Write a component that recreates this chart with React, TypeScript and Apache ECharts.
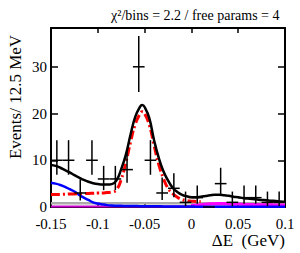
import React, { useEffect, useRef } from "react";
import * as echarts from "echarts";

const binCenters = [
  -0.14375, -0.13125, -0.11875, -0.10625, -0.09375, -0.08125, -0.06875, -0.05625, -0.04375, -0.03125,
  -0.01875, -0.00625, 0.00625, 0.01875, 0.03125, 0.04375, 0.05625, 0.06875, 0.08125, 0.09375,
];
const binWidth = 0.0125;
const counts = [10, 10, 3, 10, 6, 6, 8, 30, 10, 3, 4, 1, 2, 0, 5, 1, 2, 2, 1, 1];
const errLow = [6.9, 6.9, 1.4, 6.9, 3.6, 3.6, 5.2, 24.6, 6.9, 1.5, 2.1, 0.2, 0.7, 0, 2.8, 0.2, 0.7, 0.7, 0.2, 0.2];
const errHigh = [14.3, 14.3, 5.9, 14.3, 8.8, 8.8, 12.0, 36.6, 14.3, 6.3, 7.2, 3.3, 4.6, 0, 8.4, 3.3, 4.6, 4.6, 3.3, 3.3];

const curveX = [
  -0.15, -0.145, -0.14, -0.135, -0.13, -0.125, -0.12, -0.115, -0.11, -0.105, -0.1, -0.095, -0.09, -0.085,
  -0.08, -0.075, -0.07, -0.065, -0.06, -0.055, -0.0525, -0.05, -0.045, -0.04, -0.035, -0.03, -0.025, -0.02, -0.015,
  -0.01, -0.005, 0, 0.005, 0.01, 0.015, 0.02, 0.025, 0.03, 0.035, 0.04, 0.045, 0.05, 0.055, 0.06, 0.065,
  0.07, 0.075, 0.08, 0.085, 0.09, 0.095, 0.1,
];
const totalFit = [
  9.0, 8.8, 8.4, 7.9, 7.4, 6.8, 6.3, 5.8, 5.4, 5.1, 4.9, 4.8, 4.8, 4.9,
  5.7, 8.1, 11.2, 15.5, 19.3, 21.4, 21.8, 21.4, 19.0, 14.4, 10.6, 7.7, 5.7, 4.1, 3.2,
  2.6, 2.3, 2.1, 2.1, 2.2, 2.35, 2.5, 2.6, 2.6, 2.5, 2.4, 2.2, 2.1, 1.9, 1.8, 1.7,
  1.6, 1.5, 1.45, 1.35, 1.3, 1.2, 1.15,
];
const signalFit = [
  2.7, 2.7, 2.7, 2.75, 2.8, 2.8, 2.85, 2.9, 2.9, 2.95, 3.0, 3.0, 3.1, 3.2,
  3.7, 5.9, 9.5, 13.9, 17.7, 19.9, 20.4, 20.0, 17.6, 13.3, 9.2, 6.2, 4.0, 2.9, 2.1,
  1.6, 1.35, 1.25, 1.2, 1.15, null, null, null, null, null, null, null, null, null, null, null,
  null, null, null, null, null, null, null,
];
const bgBlue = [
  5.2, 5.0, 4.7, 4.3, 3.8, 3.3, 2.6, 2.0, 1.5, 1.0, 0.75, 0.55, 0.4, 0.32,
  0.28, 0.25, 0.22, 0.2, 0.2, 0.18, 0.18, 0.17, 0.16, 0.15, 0.14, 0.13, 0.12, 0.11, 0.1,
  0.1, 0.09, 0.09, 0.08, 0.08, 0.08, 0.07, 0.07, 0.07, 0.06, 0.06, 0.06, 0.06, 0.05, 0.05, 0.05,
  0.05, 0.05, 0.04, 0.04, 0.04, 0.04, 0.04,
];
const bgGray = curveX.map(() => 0.8);
const bgMagentaLow = curveX.map(() => 0.1);
const bumpX = [0.0, 0.01, 0.02, 0.03, 0.04, 0.05, 0.06, 0.07, 0.08, 0.09, 0.1];
const bumpY = [0.3, 0.5, 0.7, 0.75, 0.7, 0.62, 0.56, 0.52, 0.48, 0.45, 0.42];

const titleText = "χ²/bins = 2.2 / free params = 4";
const yName = "Events/ 12.5 MeV";
const xName = "ΔE  (GeV)";

const FONT = "Liberation Serif";

const pair = (xs: number[], ys: (number | null)[]) =>
  xs.map((x, i) => [x, ys[i]]).filter((p) => p[1] !== null);

export default function App() {
  const ref = useRef<HTMLDivElement>(null);
  useEffect(() => {
    document.body.style.margin = "0";
    if (!ref.current) return;
    const chart = echarts.init(ref.current, undefined, { renderer: "svg" });
    const axisLine = { show: true, onZero: false, lineStyle: { color: "#000", width: 2 } };
    const yFmt = (v: number) => (Math.abs(v % 10) < 1e-9 ? String(v) : "");
    chart.setOption({
      animation: false,
      backgroundColor: "#fff",
      title: {
        text: titleText,
        left: 106,
        top: 3,
        textStyle: { fontFamily: FONT, fontSize: 14, fontWeight: "normal", color: "#000" },
      },
      grid: { left: 51, right: 15, top: 28, bottom: 46 },
      xAxis: [
        {
          type: "value",
          min: -0.15,
          max: 0.1,
          interval: 0.05,
          axisLine,
          axisTick: { inside: true, length: 5, lineStyle: { color: "#000", width: 1.5 } },
          axisLabel: {
            margin: 11,
            fontFamily: FONT,
            fontSize: 15,
            lineHeight: 12,
            color: "#000",
            formatter: (v: number) => String(Number(v.toFixed(2))),
          },
          splitLine: { show: false },
        },
        {
          type: "value",
          position: "top",
          min: -0.15,
          max: 0.1,
          interval: 0.05,
          axisLine,
          axisTick: { inside: true, length: 5, lineStyle: { color: "#000", width: 1.5 } },
          axisLabel: { show: false },
          splitLine: { show: false },
        },
      ],
      yAxis: [
        {
          type: "value",
          min: 0,
          max: 38.3,
          interval: 10,
          axisLine,
          axisTick: { inside: true, length: 7, lineStyle: { color: "#000", width: 1.5 } },
          axisLabel: {
            margin: 4,
            fontFamily: FONT,
            fontSize: 15,
            lineHeight: 12,
            color: "#000",
            formatter: yFmt,
            showMaxLabel: false,
          },
          splitLine: { show: false },
        },
        {
          type: "value",
          position: "right",
          min: 0,
          max: 38.3,
          interval: 10,
          axisLine,
          axisTick: { inside: true, length: 7, lineStyle: { color: "#000", width: 1.5 } },
          axisLabel: { show: false },
          splitLine: { show: false },
        },
      ],
      graphic: [
        {
          type: "text",
          x: 15,
          y: 97,
          rotation: Math.PI / 2,
          style: { text: yName, fontFamily: FONT, fontSize: 17, fill: "#000", align: "center", verticalAlign: "middle" },
        },
        {
          type: "text",
          x: 285,
          y: 240,
          style: { text: xName, fontFamily: FONT, fontSize: 17, fill: "#000", align: "right", verticalAlign: "middle" },
        },
      ],
      series: [
        {
          type: "line",
          data: pair(curveX, bgGray),
          showSymbol: false,
          lineStyle: { color: "#aaaaaa", width: 2.5 },
          z: 2,
        },
        {
          type: "line",
          data: pair(curveX, bgMagentaLow),
          showSymbol: false,
          lineStyle: { color: "#cc00cc", width: 2 },
          z: 2,
        },
        {
          type: "line",
          data: pair(bumpX, bumpY),
          smooth: true,
          showSymbol: false,
          lineStyle: { color: "#ff00ff", width: 3 },
          z: 3,
        },
        {
          type: "line",
          data: pair(curveX, bgBlue),
          smooth: true,
          showSymbol: false,
          lineStyle: { color: "#0000ff", width: 2.5 },
          z: 3,
        },
        {
          type: "line",
          data: pair(curveX, signalFit),
          smooth: true,
          showSymbol: false,
          lineStyle: { color: "#ff0000", width: 3, type: [9, 3, 2, 3] },
          z: 4,
        },
        {
          type: "line",
          data: pair(curveX, totalFit),
          smooth: true,
          showSymbol: false,
          lineStyle: { color: "#000", width: 2.5 },
          z: 5,
        },
        {
          type: "custom",
          z: 6,
          data: binCenters.map((x, i) => [x, counts[i], errLow[i], errHigh[i]]),
          encode: { x: 0, y: 1 },
          renderItem: (params: any, api: any) => {
            const x = api.value(0);
            const y = api.value(1);
            const lo = api.value(2);
            const hi = api.value(3);
            const c = api.coord([x, y]);
            const l = api.coord([x - binWidth / 2, y]);
            const r = api.coord([x + binWidth / 2, y]);
            const pLo = api.coord([x, lo]);
            const pHi = api.coord([x, hi]);
            const st = { stroke: "#000", lineWidth: 1.5 };
            return {
              type: "group",
              children: [
                { type: "line", shape: { x1: l[0], y1: c[1], x2: r[0], y2: c[1] }, style: st },
                { type: "line", shape: { x1: c[0], y1: pLo[1], x2: c[0], y2: pHi[1] }, style: st },
              ],
            };
          },
        },
      ],
    });
    return () => chart.dispose();
  }, []);
  return <div ref={ref} style={{ width: 300, height: 253 }} />;
}
